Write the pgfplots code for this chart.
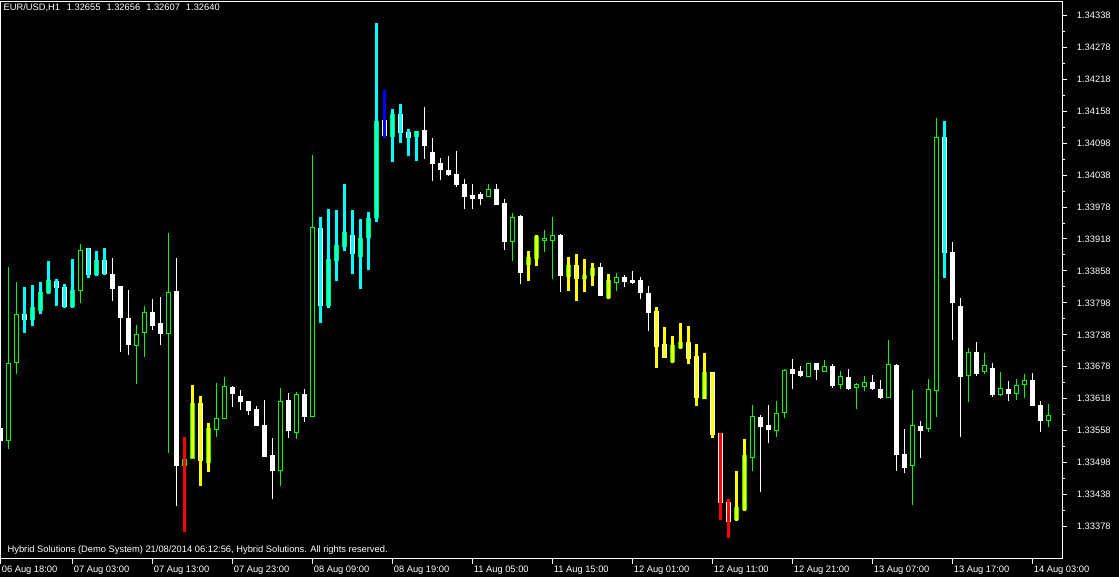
\documentclass[border=0pt]{standalone}
\usepackage{pgfplots}
\pgfplotsset{compat=1.18}
\usepackage{pgfplotstable}
\usepackage{fontspec}
\setmainfont{Liberation Sans}

\definecolor{mtgreen}{RGB}{0,255,0}
\definecolor{mtcyan}{RGB}{0,255,255}
\definecolor{mtyellow}{RGB}{255,255,0}
\definecolor{mtred}{RGB}{255,0,0}
\definecolor{mtblue}{RGB}{0,0,255}

% EUR/USD H1 candles: index, open, high, low, close
\pgfplotstableread{
k o h l c
1 1.33540 1.33865 1.33523 1.33684
2 1.33686 1.33837 1.33664 1.33776
4 1.33767 1.33831 1.33754 1.33790
5 1.33784 1.33838 1.33778 1.33818
6 1.33818 1.33876 1.33814 1.33840
9 1.33791 1.33880 1.33788 1.33821
10 1.33821 1.33908 1.33797 1.33897
12 1.33852 1.33895 1.33848 1.33878
17 1.33718 1.33756 1.33645 1.33739
18 1.33743 1.33793 1.33696 1.33780
21 1.33741 1.33930 1.33517 1.33818
23 1.33493 1.33547 1.33367 1.33504
24 1.33506 1.33643 1.33504 1.33609
26 1.33498 1.33572 1.33480 1.33562
27 1.33560 1.33647 1.33547 1.33581
28 1.33581 1.33658 1.33579 1.33641
35 1.33483 1.33639 1.33455 1.33613
37 1.33555 1.33630 1.33542 1.33626
39 1.33585 1.34075 1.33583 1.33940
41 1.33793 1.33975 1.33788 1.33880
42 1.33878 1.33972 1.33840 1.33906
43 1.33904 1.34021 1.33895 1.33930
45 1.33885 1.33955 1.33825 1.33919
46 1.33921 1.33968 1.33859 1.33957
47 1.33959 1.34323 1.33949 1.34139
49 1.34111 1.34163 1.34062 1.34152
52 1.34111 1.34121 1.34064 1.34120
61 1.33998 1.34021 1.33996 1.34011
64 1.33914 1.33966 1.33876 1.33959
66 1.33870 1.33895 1.33840 1.33883
67 1.33882 1.33925 1.33868 1.33923
68 1.33915 1.33934 1.33893 1.33919
69 1.33915 1.33960 1.33842 1.33925
71 1.33848 1.33885 1.33820 1.33868
73 1.33844 1.33880 1.33818 1.33850
74 1.33850 1.33872 1.33829 1.33863
76 1.33808 1.33852 1.33806 1.33840
77 1.33837 1.33855 1.33820 1.33846
84 1.33688 1.33735 1.33686 1.33718
85 1.33714 1.33761 1.33712 1.33724
88 1.33619 1.33703 1.33617 1.33668
92 1.33391 1.33483 1.33389 1.33414
93 1.33410 1.33542 1.33408 1.33512
94 1.33508 1.33607 1.33482 1.33585
97 1.33559 1.33613 1.33547 1.33591
98 1.33592 1.33673 1.33581 1.33671
101 1.33660 1.33686 1.33658 1.33684
103 1.33669 1.33690 1.33668 1.33679
105 1.33645 1.33671 1.33636 1.33660
107 1.33639 1.33647 1.33598 1.33645
108 1.33641 1.33660 1.33632 1.33649
111 1.33621 1.33728 1.33619 1.33683
114 1.33493 1.33634 1.33418 1.33568
116 1.33562 1.33656 1.33555 1.33636
117 1.33634 1.34146 1.33583 1.34109
121 1.33662 1.33713 1.33611 1.33705
123 1.33669 1.33703 1.33664 1.33681
125 1.33626 1.33669 1.33624 1.33637
127 1.33628 1.33656 1.33615 1.33643
128 1.33645 1.33664 1.33619 1.33652
131 1.33577 1.33609 1.33564 1.33587
}\bull

\pgfplotstableread{
k o h l c
0 1.33562 1.33564 1.33538 1.33540
3 1.33776 1.33827 1.33741 1.33767
7 1.33838 1.33842 1.33793 1.33827
8 1.33827 1.33833 1.33789 1.33791
11 1.33900 1.33902 1.33844 1.33852
13 1.33878 1.33902 1.33851 1.33853
14 1.33852 1.33882 1.33801 1.33825
15 1.33829 1.33830 1.33705 1.33771
16 1.33769 1.33823 1.33701 1.33720
19 1.33780 1.33806 1.33748 1.33756
20 1.33760 1.33810 1.33718 1.33741
22 1.33820 1.33882 1.33416 1.33493
25 1.33609 1.33624 1.33455 1.33502
29 1.33640 1.33642 1.33602 1.33628
30 1.33622 1.33634 1.33596 1.33613
31 1.33612 1.33614 1.33587 1.33596
32 1.33598 1.33604 1.33566 1.33568
33 1.33568 1.33615 1.33509 1.33510
34 1.33512 1.33544 1.33429 1.33483
36 1.33615 1.33628 1.33544 1.33559
38 1.33626 1.33636 1.33575 1.33585
40 1.33938 1.33959 1.33761 1.33793
44 1.33925 1.33972 1.33852 1.33891
48 1.34141 1.34197 1.34107 1.34113
50 1.34152 1.34171 1.34098 1.34118
51 1.34118 1.34124 1.34073 1.34109
53 1.34122 1.34165 1.34069 1.34094
54 1.34081 1.34107 1.34026 1.34060
55 1.34060 1.34071 1.34028 1.34049
56 1.34047 1.34073 1.34036 1.34039
57 1.34039 1.34083 1.34015 1.34021
58 1.34021 1.34030 1.33975 1.33998
59 1.34000 1.34021 1.33974 1.33994
60 1.34002 1.34006 1.33981 1.33994
62 1.34011 1.34021 1.33982 1.33983
63 1.33985 1.33994 1.33897 1.33914
65 1.33960 1.33964 1.33833 1.33855
70 1.33925 1.33927 1.33818 1.33850
72 1.33868 1.33889 1.33801 1.33844
75 1.33865 1.33872 1.33811 1.33812
78 1.33846 1.33850 1.33827 1.33838
79 1.33840 1.33857 1.33833 1.33837
80 1.33840 1.33846 1.33805 1.33818
81 1.33816 1.33829 1.33746 1.33780
82 1.33782 1.33790 1.33675 1.33716
83 1.33720 1.33752 1.33695 1.33696
86 1.33724 1.33754 1.33684 1.33694
87 1.33698 1.33720 1.33604 1.33621
89 1.33668 1.33669 1.33545 1.33551
90 1.33553 1.33554 1.33390 1.33423
91 1.33423 1.33429 1.33356 1.33388
95 1.33583 1.33587 1.33442 1.33566
96 1.33568 1.33606 1.33534 1.33560
99 1.33673 1.33692 1.33636 1.33666
100 1.33669 1.33679 1.33658 1.33662
102 1.33684 1.33686 1.33654 1.33673
104 1.33679 1.33684 1.33639 1.33643
106 1.33658 1.33673 1.33634 1.33637
109 1.33649 1.33662 1.33634 1.33637
110 1.33636 1.33654 1.33617 1.33621
112 1.33681 1.33683 1.33483 1.33514
113 1.33514 1.33562 1.33478 1.33489
115 1.33566 1.33577 1.33506 1.33559
118 1.34109 1.34139 1.33844 1.33893
119 1.33893 1.33912 1.33729 1.33799
120 1.33791 1.33808 1.33547 1.33660
122 1.33705 1.33724 1.33660 1.33666
124 1.33675 1.33686 1.33621 1.33626
126 1.33636 1.33651 1.33613 1.33628
129 1.33652 1.33666 1.33605 1.33606
130 1.33606 1.33613 1.33555 1.33577
}\bear

% indicator bars drawn over the candles: index, high, low
\pgfplotstableread{
k h l
3 1.33827 1.33741
4 1.33831 1.33754
5 1.33838 1.33778
6 1.33876 1.33814
7 1.33842 1.33793
8 1.33833 1.33789
9 1.33880 1.33788
11 1.33902 1.33844
12 1.33895 1.33848
13 1.33902 1.33851
40 1.33959 1.33761
41 1.33975 1.33788
42 1.33972 1.33840
43 1.34021 1.33895
44 1.33972 1.33852
45 1.33955 1.33825
46 1.33968 1.33859
47 1.34323 1.33949
49 1.34163 1.34062
50 1.34171 1.34098
51 1.34124 1.34073
52 1.34121 1.34064
118 1.34139 1.33844
}\hacyan

\pgfplotstableread{
k h l
48 1.34197 1.34107
}\hablue

\pgfplotstableread{
k h l
23 1.33547 1.33367
90 1.33554 1.33390
91 1.33429 1.33356
}\hared

\pgfplotstableread{
k h l
24 1.33643 1.33506
25 1.33624 1.33455
26 1.33572 1.33480
66 1.33895 1.33840
67 1.33925 1.33868
71 1.33885 1.33820
72 1.33889 1.33801
73 1.33880 1.33818
74 1.33872 1.33829
76 1.33852 1.33806
82 1.33790 1.33675
83 1.33752 1.33695
84 1.33735 1.33686
85 1.33761 1.33712
86 1.33754 1.33684
87 1.33720 1.33604
88 1.33703 1.33617
89 1.33669 1.33545
92 1.33483 1.33389
93 1.33542 1.33408
}\hayellow

\pgfplotsset{
  bar/.style 2 args={draw=none, mark=none, forget plot,
    error bars/.cd, y dir=plus, y explicit, error mark=none,
    error bar style={solid, line cap=butt, line width=#1, draw=#2}},
}

\begin{document}
\begin{tikzpicture}[every node/.style={font=\fontsize{7pt}{8pt}\selectfont}]
\useasboundingbox (0,0) rectangle (839.25pt,432.75pt);
\fill[black] (0,0) rectangle (839.25pt,432.75pt);
\begin{axis}[
  at={(0pt,13.5pt)}, anchor=south west,
  scale only axis, width=796.5pt, height=418.1pt,
  xmin=-0.0625, xmax=132.69,
  ymin=1.33317, ymax=1.34364,
  axis line style={white, line width=0.75pt},
  tick style={white, line width=0.75pt},
  xtick pos=bottom, ytick pos=right,
  tick align=outside, major tick length=3.5pt, minor tick length=2.25pt,
  minor y tick num=1,
  ticklabel style={font=\fontsize{7pt}{8pt}\selectfont},
  ytick={1.33378,1.33438,1.33498,1.33558,1.33618,1.33678,1.33738,1.33798,1.33858,1.33918,1.33978,1.34038,1.34098,1.34158,1.34218,1.34278,1.34338},
  yticklabels={1.33378,1.33438,1.33498,1.33558,1.33618,1.33678,1.33738,1.33798,1.33858,1.33918,1.33978,1.34038,1.34098,1.34158,1.34218,1.34278,1.34338},
  yticklabel style={white, anchor=west, inner sep=0pt, xshift=7.5pt},
  xtick={0,9,19,29,39,49,59,69,79,89,99,109,119,129},
  xticklabels={06 Aug 18:00,07 Aug 03:00,07 Aug 13:00,07 Aug 23:00,08 Aug 09:00,08 Aug 19:00,11 Aug 05:00,11 Aug 15:00,12 Aug 01:00,12 Aug 11:00,12 Aug 21:00,13 Aug 07:00,13 Aug 17:00,14 Aug 03:00},
  xticklabel style={white, anchor=north west, inner sep=0pt, xshift=0.8pt, yshift=-1.5pt},
]
% wicks
\addplot[bar={0.75pt}{mtgreen}]
  table[x=k, y=l, y error expr=\thisrow{h}-\thisrow{l}] {\bull};
\addplot[bar={0.75pt}{white}]
  table[x=k, y=l, y error expr=\thisrow{h}-\thisrow{l}] {\bear};
% bodies
\addplot[bar={3.75pt}{mtgreen}]
  table[x=k, y expr=\thisrow{o}-0.00000939, y error expr=\thisrow{c}-\thisrow{o}+0.0000188] {\bull};
\addplot[bar={2.25pt}{black}]
  table[x=k, y expr=\thisrow{o}+0.00000939, y error expr={max(\thisrow{c}-\thisrow{o}-0.0000188,0)}] {\bull};
\addplot[bar={3.75pt}{white}]
  table[x=k, y expr=\thisrow{c}-0.00000939, y error expr=\thisrow{o}-\thisrow{c}+0.0000188] {\bear};
% indicator bars
\addplot[bar={2.25pt}{mtcyan}]
  table[x=k, y=l, y error expr=\thisrow{h}-\thisrow{l}] {\hacyan};
\addplot[bar={2.25pt}{mtblue}]
  table[x=k, y=l, y error expr=\thisrow{h}-\thisrow{l}] {\hablue};
\addplot[bar={2.25pt}{mtred}]
  table[x=k, y=l, y error expr=\thisrow{h}-\thisrow{l}] {\hared};
\addplot[bar={2.25pt}{mtyellow}]
  table[x=k, y=l, y error expr=\thisrow{h}-\thisrow{l}] {\hayellow};
\end{axis}
\node[white, anchor=base west, inner sep=0pt] at (2.5pt,424.9pt)
  {EUR/USD,H1\hspace{5pt}1.32655\hspace{4.5pt}1.32656\hspace{4.5pt}1.32607\hspace{4.5pt}1.32640};
\node[white, anchor=base west, inner sep=0pt] at (5.5pt,18pt)
  {Hybrid Solutions (Demo System) 21/08/2014 06:12:56, Hybrid Solutions. All rights reserved.};
\end{tikzpicture}
\end{document}
